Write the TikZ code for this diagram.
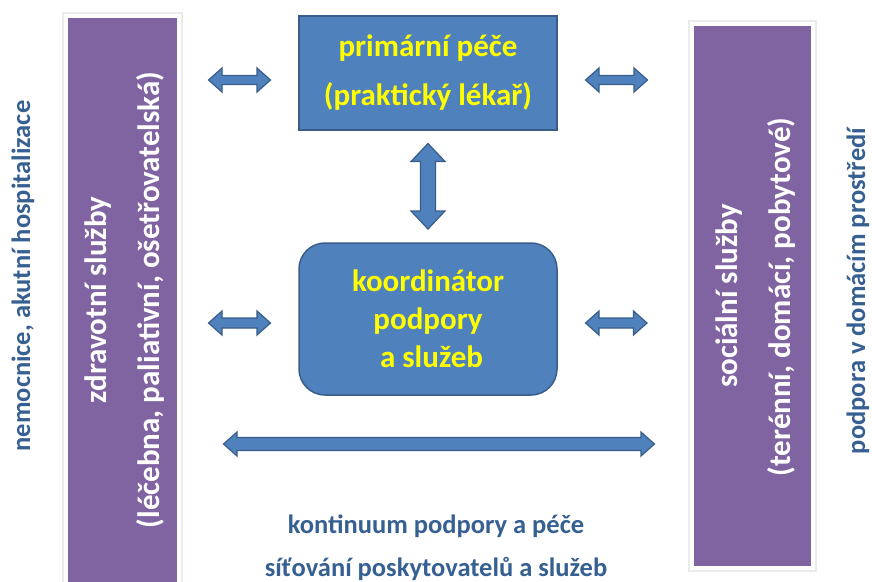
\documentclass[tikz,border=0pt]{standalone}
\usepackage{fontspec}
\setmainfont{Carlito}
\definecolor{boxfill}{HTML}{4F81BD}
\definecolor{boxline}{HTML}{385D8A}
\definecolor{barpurple}{HTML}{8064A2}
\definecolor{textblue}{HTML}{376092}
\definecolor{txtyellow}{HTML}{FFFF00}
\newcommand{\hdarrow}[5]{% left tip, right tip, shaft half, head half, head length
  \draw[blockarrow] (#1) -- ([xshift=#5pt,yshift=#4pt]#1) -- ([xshift=#5pt,yshift=#3pt]#1)
    -- ([xshift=-#5pt,yshift=#3pt]#2) -- ([xshift=-#5pt,yshift=#4pt]#2) -- (#2)
    -- ([xshift=-#5pt,yshift=-#4pt]#2) -- ([xshift=-#5pt,yshift=-#3pt]#2)
    -- ([xshift=#5pt,yshift=-#3pt]#1) -- ([xshift=#5pt,yshift=-#4pt]#1) -- cycle;}
\newcommand{\vdarrow}[5]{% top tip, bottom tip, shaft half, head half, head length
  \draw[blockarrow] (#1) -- ([xshift=#4pt,yshift=-#5pt]#1) -- ([xshift=#3pt,yshift=-#5pt]#1)
    -- ([xshift=#3pt,yshift=#5pt]#2) -- ([xshift=#4pt,yshift=#5pt]#2) -- (#2)
    -- ([xshift=-#4pt,yshift=#5pt]#2) -- ([xshift=-#3pt,yshift=#5pt]#2)
    -- ([xshift=-#3pt,yshift=-#5pt]#1) -- ([xshift=-#4pt,yshift=-#5pt]#1) -- cycle;}
\begin{document}
\begin{tikzpicture}[x=1pt,y=-1pt,
  bar/.style={rectangle, fill=barpurple, draw=white, line width=4pt, inner sep=0pt},
  barshadow/.style={draw=black!8, line width=1.5pt},
  bluebox/.style={rectangle, fill=boxfill, draw=boxline, line width=1.5pt, text=txtyellow,
    font=\bfseries\fontsize{31}{49}\selectfont, align=center, inner sep=0pt},
  blockarrow/.style={fill=boxfill, draw=boxline, line width=1.2pt, line join=miter},
  bartext/.style={rotate=90, anchor=base, text=white, font=\bfseries\fontsize{31}{37}\selectfont, inner sep=0pt},
  sidetext/.style={rotate=90, anchor=base, text=textblue, font=\bfseries\fontsize{26.5}{32}\selectfont, inner sep=0pt},
  bottomtext/.style={anchor=base, text=textblue, font=\bfseries\fontsize{26.5}{32}\selectfont, inner sep=0pt}]
\useasboundingbox (0,0) rectangle (872,581);
\fill[white] (0,0) rectangle (872,581);

% side bars
\draw[barshadow] (63,13) rectangle (182,600);
\node[bar, minimum width=113pt, minimum height=590pt] (zdrav) at (122.5,311) {};
\draw[barshadow] (689,21) rectangle (816,571);
\node[bar, minimum width=121pt, minimum height=544pt] (soc) at (752.5,296) {};

% texts in bars
\node[bartext] (z1) at (106,300) {zdravotní služby};
\node[bartext] (z2) at (159,300) {(léčebna, paliativní, ošetřovatelská)};
\node[bartext] (s1) at (737,296) {sociální služby};
\node[bartext] (s2) at (790,297) {(terénní, domácí, pobytové)};

% outer side texts
\node[sidetext] (nem) at (30,276) {nemocnice, akutní hospitalizace};
\node[sidetext] (dom) at (865,291) {podpora v domácím prostředí};

% blue boxes
\node[bluebox, minimum width=258pt, minimum height=114pt] (prim) at (428,73)
  {primární péče\\(praktický lékař)};
\node[bluebox, rounded corners=26pt, minimum width=258pt, minimum height=152pt,
  font=\bfseries\fontsize{31}{38}\selectfont] (koord) at (428,319)
  {koordinátor\\podpory\\\hspace*{7pt}a služeb};

% bottom texts
\node[bottomtext] (kont) at (436,533) {kontinuum podpory a péče};
\node[bottomtext] (sit) at (436,576) {síťování poskytovatelů a služeb};

% arrows
\coordinate (a1l) at (208.5,80);  \coordinate (a1r) at (270.5,80);
\coordinate (a2l) at (585.5,80);  \coordinate (a2r) at (647.5,80);
\coordinate (a3l) at (208.5,323); \coordinate (a3r) at (270.5,323);
\coordinate (a4l) at (585.5,323); \coordinate (a4r) at (647,323);
\coordinate (vt) at (428,143.5);  \coordinate (vb) at (428,229);
\coordinate (ll) at (223.5,444);  \coordinate (lr) at (654.5,444);
\hdarrow{a1l}{a1r}{4.5}{12}{13.5}
\hdarrow{a2l}{a2r}{4.5}{12}{13.5}
\hdarrow{a3l}{a3r}{5}{12}{13.5}
\hdarrow{a4l}{a4r}{5}{12}{13.5}
\vdarrow{vt}{vb}{7.5}{17}{18}
\hdarrow{ll}{lr}{6.5}{12}{13.5}
\end{tikzpicture}
\end{document}
